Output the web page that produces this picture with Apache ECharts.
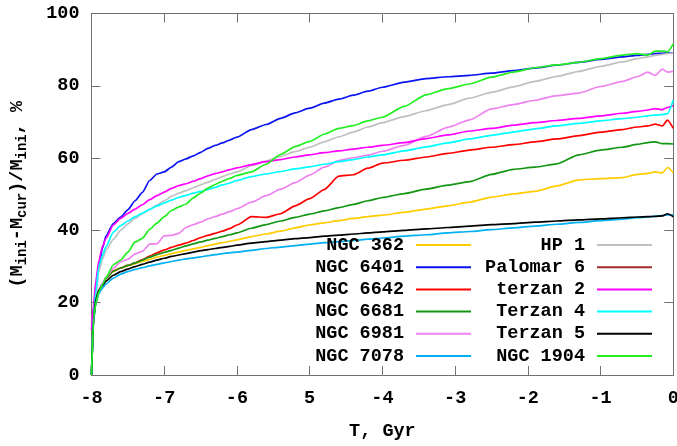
<!DOCTYPE html>
<html>
<head>
<meta charset="utf-8">
<script src="https://cdn.jsdelivr.net/npm/echarts@6/dist/echarts.min.js"></script>
<style>
  html, body { margin: 0; padding: 0; background: #fff; }
  #chart { width: 677px; height: 446px; }
</style>
</head>
<body>
<div id="chart"></div>
<script>
// time, Gyr
const times = [-8, -7.97, -7.94, -7.9, -7.85, -7.8, -7.7, -7.6, -7.5, -7.4, -7.3, -7.2, -7.1, -7.0,
  -6.9, -6.8, -6.7, -6.6, -6.5, -6.4, -6.3, -6.2, -6.1, -6.0, -5.8, -5.6, -5.4, -5.2, -5.0,
  -4.8, -4.6, -4.4, -4.2, -4.0, -3.7, -3.4, -3.1, -2.8, -2.5, -2.2, -1.9, -1.6, -1.3, -1.0,
  -0.7, -0.5, -0.35, -0.25, -0.15, -0.08, 0];

// mass lost, %
const ngc362 = [0, 16, 20, 23, 25, 26.8, 28.6, 29.6, 30.2, 30.8, 31.4, 32.0, 32.6, 33.1,
  33.6, 34.0, 34.5, 34.9, 35.3, 35.8, 36.2, 36.6, 37.0, 37.4, 38.3, 39.0, 39.8, 40.7, 41.5,
  42.1, 42.7, 43.3, 43.8, 44.2, 45.0, 45.9, 46.8, 47.8, 49.2, 50.1, 50.8, 52.3, 54.0, 54.3,
  54.6, 55.5, 55.8, 56.2, 55.9, 57.4, 56.0];
const ngc6401 = [0, 18, 25, 30, 35, 38.5, 41.9, 43.7, 45.7, 48.2, 50.5, 53.8, 55.6, 56.2,
  57.5, 59.0, 59.8, 60.6, 61.6, 62.7, 63.5, 64.2, 65.0, 65.8, 67.9, 69.3, 71.0, 72.5, 73.8,
  75.2, 76.3, 77.4, 78.5, 79.6, 81.0, 82.0, 82.5, 82.9, 83.5, 84.2, 84.9, 85.7, 86.5, 87.3,
  88.0, 88.4, 88.7, 88.9, 89.0, 89.1, 89.0];
const ngc6642 = [0, 16, 20, 23, 25, 26.8, 28.8, 29.6, 30.3, 31.0, 31.9, 32.9, 33.8, 34.6,
  35.3, 35.9, 36.5, 37.2, 38.0, 38.6, 39.2, 39.8, 40.5, 41.5, 43.8, 43.6, 44.6, 46.8, 48.8,
  51.3, 55.0, 55.4, 57.2, 58.6, 59.4, 60.3, 61.3, 62.2, 63.0, 63.7, 64.5, 65.3, 66.2, 67.2,
  67.9, 68.6, 68.9, 69.4, 68.9, 70.5, 68.2];
const ngc6681 = [0, 16, 20, 23, 25, 26.8, 28.7, 29.6, 30.3, 31.0, 31.8, 32.6, 33.3, 33.9,
  34.5, 35.1, 35.7, 36.3, 36.8, 37.3, 37.8, 38.3, 38.8, 39.3, 40.6, 41.6, 42.6, 43.6, 44.5,
  45.4, 46.3, 47.2, 48.2, 49.1, 50.2, 51.4, 52.5, 53.5, 55.5, 56.9, 57.5, 58.4, 60.9, 62.2,
  63.0, 63.8, 64.3, 64.5, 64.0, 64.0, 63.9];
const ngc6981 = [0, 16, 20.5, 23.5, 25.5, 27.0, 29.5, 31.3, 32.0, 33.5, 34.2, 36.2, 36.3, 38.5,
  38.6, 39.2, 40.8, 41.6, 42.3, 43.2, 43.8, 44.5, 45.2, 46.0, 47.8, 49.6, 51.4, 53.2, 55.3,
  57.5, 59.3, 60.1, 60.8, 61.9, 63.5, 66.0, 68.5, 70.6, 73.6, 74.8, 76.0, 77.3, 78.0, 79.8,
  81.2, 82.5, 83.8, 82.9, 84.6, 83.8, 84.0];
const ngc7078 = [0, 15, 20, 22.5, 24, 25.2, 26.8, 27.9, 28.6, 29.2, 29.7, 30.2, 30.6, 31.0,
  31.4, 31.8, 32.1, 32.4, 32.7, 33.0, 33.3, 33.6, 33.8, 34.0, 34.5, 35.0, 35.4, 35.8, 36.2,
  36.6, 36.9, 37.2, 37.6, 37.9, 38.4, 38.8, 39.3, 39.7, 40.2, 40.7, 41.2, 41.7, 42.2, 42.7,
  43.1, 43.5, 43.7, 43.9, 44.1, 44.3, 44.3];
const hp1 = [0, 17, 22, 28.5, 32, 34.5, 37.5, 40.0, 41.8, 43.3, 44.6, 45.8, 47.0, 48.2,
  49.4, 50.3, 51.0, 51.8, 52.6, 53.3, 54.1, 54.9, 55.6, 56.2, 57.9, 59.2, 60.5, 61.8, 63.0,
  64.5, 65.9, 67.2, 68.6, 69.8, 71.5, 73.1, 74.8, 76.6, 78.2, 79.7, 81.2, 82.6, 84.0, 85.4,
  86.6, 87.5, 88.0, 88.4, 88.7, 88.9, 89.0];
const palomar6 = [];
const terzan2 = [12.5, 20, 26, 31.5, 35.5, 37.8, 41.5, 43.3, 44.7, 45.9, 47.1, 48.5, 49.6, 50.6,
  51.6, 52.4, 52.9, 53.6, 54.3, 55.1, 55.7, 56.2, 56.8, 57.3, 58.2, 59.0, 59.6, 60.3, 60.9,
  61.5, 62.0, 62.5, 63.0, 63.5, 64.3, 65.4, 66.4, 67.5, 68.2, 69.1, 69.8, 70.4, 71.0, 71.7,
  72.4, 72.9, 73.3, 73.7, 73.4, 74.0, 74.5];
const terzan4 = [0, 17, 23, 30, 33, 35.5, 39.5, 41.3, 42.6, 43.8, 44.8, 45.8, 46.8, 47.6,
  48.4, 49.1, 49.7, 50.3, 50.8, 51.3, 51.9, 52.6, 53.1, 53.8, 54.9, 55.6, 56.3, 57.0, 57.6,
  58.3, 59.0, 59.6, 60.3, 60.9, 62.0, 63.1, 64.2, 65.3, 66.3, 67.2, 68.1, 68.9, 69.6, 70.3,
  70.9, 71.3, 71.7, 71.9, 72.0, 72.3, 76.1];
const terzan5 = [0, 16, 21, 23.5, 24.8, 26.0, 27.6, 28.6, 29.3, 30.0, 30.6, 31.2, 31.8, 32.3,
  32.8, 33.2, 33.6, 34.0, 34.4, 34.7, 35.0, 35.3, 35.6, 35.9, 36.5, 36.9, 37.3, 37.7, 38.0,
  38.4, 38.7, 39.0, 39.3, 39.6, 40.0, 40.4, 40.8, 41.2, 41.6, 41.9, 42.3, 42.6, 42.9, 43.2,
  43.5, 43.7, 43.8, 43.9, 44.0, 44.6, 43.8];
const ngc1904 = [0, 16, 20, 23, 25, 27, 30.5, 31.8, 34.0, 36.8, 37.8, 40.3, 42.0, 43.8,
  45.5, 46.5, 47.3, 49.0, 50.3, 51.7, 52.7, 53.6, 54.4, 55.2, 56.2, 58.3, 61.0, 63.2, 64.6,
  66.6, 68.2, 69.0, 70.3, 71.3, 74.3, 77.5, 79.2, 80.5, 82.4, 83.8, 85.0, 85.8, 86.5, 87.5,
  88.5, 88.9, 88.5, 89.6, 89.6, 89.4, 91.6];

const xTickLabels = ['-8', '-7', '-6', '5', '-4', '-3', '-2', '-1', '0'];

const clusters = [
  { name: 'NGC 362', values: ngc362, color: '#ffcc00' },
  { name: 'NGC 6401', values: ngc6401, color: '#0a14f0' },
  { name: 'NGC 6642', values: ngc6642, color: '#ff0000' },
  { name: 'NGC 6681', values: ngc6681, color: '#149614' },
  { name: 'NGC 6981', values: ngc6981, color: '#ee82ee' },
  { name: 'NGC 7078', values: ngc7078, color: '#00b0f0' },
  { name: 'HP 1', values: hp1, color: '#c0c0c0' },
  { name: 'Palomar 6', values: palomar6, color: '#a52a2a' },
  { name: 'terzan 2', values: terzan2, color: '#ff00ff' },
  { name: 'Terzan 4', values: terzan4, color: '#00ffff' },
  { name: 'Terzan 5', values: terzan5, color: '#000000' },
  { name: 'NGC 1904', values: ngc1904, color: '#22ee22' },
];

const font = 'Liberation Mono';
const fontSize = 18.5;
const frameColor = '#707070';

const chart = echarts.init(document.getElementById('chart'));

const legendCommon = {
  orient: 'vertical',
  align: 'right',
  padding: 0,
  itemGap: 2.2,
  itemWidth: 55,
  itemHeight: 2,
  icon: 'rect',
  selectedMode: false,
  textStyle: {
    fontFamily: font,
    fontWeight: 'bold',
    fontSize: fontSize,
    color: '#000',
    lineHeight: 20,
    padding: [0, 7, 0, 0],
  },
};

const axisCommon = {
  axisLine: { show: true, onZero: false, lineStyle: { color: frameColor, width: 1 } },
  axisTick: { show: true, inside: true, length: 9, lineStyle: { color: frameColor } },
  splitLine: { show: false },
};

const option = {
  animation: false,
  backgroundColor: '#fff',
  grid: { left: 91.5, right: 3.7, top: 13.5, bottom: 71, containLabel: false, outerBoundsMode: 'none' },
  legend: [
    Object.assign({}, legendCommon, {
      right: 206, top: 235,
      data: clusters.slice(0, 6).map((c) => c.name),
    }),
    Object.assign({}, legendCommon, {
      right: 25, top: 235,
      data: clusters.slice(6).map((c) => c.name),
    }),
  ],
  xAxis: [
    Object.assign({}, axisCommon, {
      type: 'value',
      position: 'bottom',
      min: -8,
      max: 0,
      interval: 1,
      name: 'T, Gyr',
      nameLocation: 'middle',
      nameGap: 47,
      nameTextStyle: { fontFamily: font, fontWeight: 'bold', fontSize: fontSize, color: '#000' },
      axisLabel: {
        margin: 14,
        fontFamily: font,
        fontWeight: 'bold',
        fontSize: fontSize,
        color: '#000',
        formatter: (v) => xTickLabels[Math.round(v + 8)],
      },
    }),
    Object.assign({}, axisCommon, {
      type: 'value',
      position: 'top',
      min: -8,
      max: 0,
      interval: 1,
      axisLabel: { show: false },
    }),
  ],
  yAxis: [
    Object.assign({}, axisCommon, {
      type: 'value',
      position: 'left',
      min: 0,
      max: 100,
      interval: 20,
      name: '{t|(M}{s|ini}{t|-M}{s|cur}{t|)/M}{s|ini}{t|, %}',
      nameLocation: 'middle',
      nameRotate: 90,
      nameGap: 62,
      nameTextStyle: {
        rich: {
          t: { fontFamily: font, fontWeight: 'bold', fontSize: fontSize, color: '#000', lineHeight: 24, verticalAlign: 'middle' },
          s: { fontFamily: font, fontWeight: 'bold', fontSize: 14, color: '#000', lineHeight: 24, verticalAlign: 'bottom' },
        },
      },
      axisLabel: {
        margin: 12,
        fontFamily: font,
        fontWeight: 'bold',
        fontSize: fontSize,
        color: '#000',
      },
    }),
    Object.assign({}, axisCommon, {
      type: 'value',
      position: 'right',
      min: 0,
      max: 100,
      interval: 20,
      axisLabel: { show: false },
    }),
  ],
  series: clusters.map((c) => ({
    name: c.name,
    type: 'line',
    xAxisIndex: 0,
    yAxisIndex: 0,
    symbol: 'none',
    smooth: 0.2,
    smoothMonotone: 'x',
    itemStyle: { color: c.color },
    lineStyle: { color: c.color, width: 1.7 },
    emphasis: { disabled: true },
    data: times.slice(0, c.values.length).map((t, i) => [t, c.values[i]]),
  })),
};

chart.setOption(option);
</script>
</body>
</html>
